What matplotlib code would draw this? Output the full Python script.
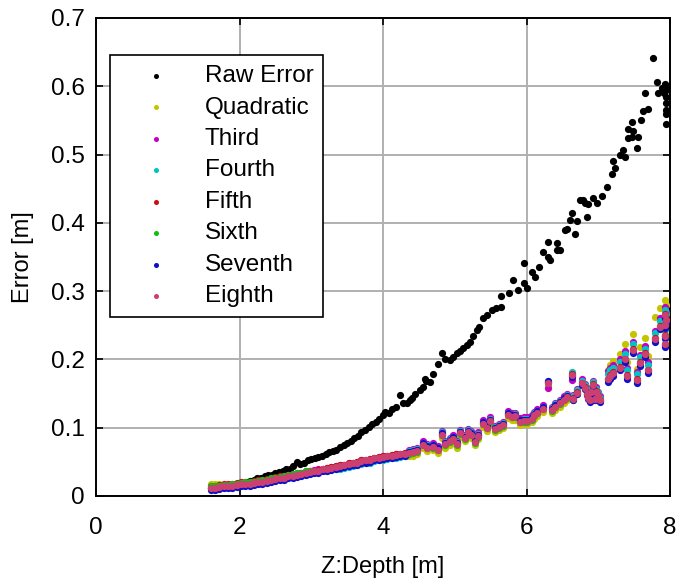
import matplotlib
matplotlib.use("Agg")
import matplotlib.pyplot as plt

plt.rcParams['font.family'] = ['Liberation Sans', 'DejaVu Sans']

# ---------------- data ----------------
raw_depth = [1.60, 1.65, 1.70, 1.75, 1.80, 1.85, 1.90, 1.95, 2.00, 2.05, 2.10, 2.15, 2.20, 2.25,
             2.30, 2.35, 2.40, 2.45, 2.50, 2.55, 2.60, 2.65, 2.70, 2.75, 2.80, 2.85, 2.90, 2.95,
             3.00, 3.05, 3.10, 3.15, 3.20, 3.25, 3.30, 3.35, 3.40, 3.45, 3.50, 3.55, 3.60, 3.65,
             3.70, 3.75, 3.80, 3.85, 3.90, 3.95,
             4.00, 4.03, 4.08, 4.12, 4.18, 4.24, 4.28, 4.33, 4.38, 4.40, 4.45, 4.52, 4.56, 4.59,
             4.60, 4.65, 4.70, 4.77, 4.82, 4.86, 4.93, 4.98, 5.03, 5.08, 5.12, 5.17, 5.21, 5.26,
             5.31, 5.34, 5.39, 5.45, 5.52, 5.58, 5.65, 5.65, 5.75, 5.81, 5.88, 5.97, 5.97, 6.01,
             6.07, 6.12, 6.18, 6.23, 6.30, 6.33, 6.30, 6.42, 6.43, 6.46, 6.53, 6.56, 6.60, 6.63,
             6.67, 6.70, 6.75, 6.79, 6.82, 6.84, 6.86, 6.93, 6.98, 7.05, 7.12, 7.19, 7.21, 7.23,
             7.30, 7.34, 7.37, 7.41, 7.41, 7.47, 7.47, 7.48, 7.54, 7.55, 7.60, 7.62, 7.65, 7.69,
             7.76, 7.82, 7.83, 7.89, 7.93, 7.95, 7.95, 7.95, 7.95, 7.95, 7.94, 7.96, 7.92]
raw_error = [.011, .012, .012, .013, .014, .015, .016, .017, .018, .019, .021, .022, .024, .027,
             .027, .029, .031, .031, .033, .035, .036, .039, .040, .044, .050, .047, .049, .052,
             .054, .056, .057, .058, .061, .064, .066, .068, .072, .075, .078, .081, .085, .088,
             .093, .097, .101, .105, .109, .113,
             .118, .123, .121, .127, .131, .148, .136, .136, .140, .143, .150, .155, .160, .172,
             .168, .167, .178, .194, .210, .200, .199, .204, .209, .213, .217, .221, .225, .235,
             .243, .248, .261, .265, .272, .275, .277, .293, .297, .316, .301, .312, .341, .304,
             .328, .320, .336, .358, .350, .346, .372, .360, .371, .360, .389, .391, .404, .415,
             .383, .402, .433, .433, .429, .408, .427, .437, .429, .440, .452, .472, .491, .480,
             .499, .506, .496, .524, .538, .525, .547, .535, .510, .525, .550, .564, .590, .567,
             .641, .606, .590, .597, .604, .594, .585, .575, .565, .560, .545, .600, .590]

fit_depth = [1.60, 1.66, 1.72, 1.78, 1.84, 1.90, 1.96, 2.02, 2.08, 2.14, 2.20, 2.26, 2.32, 2.38,
             2.44, 2.50, 2.56, 2.62, 2.68, 2.74, 2.80, 2.86, 2.92, 2.98, 3.04, 3.10, 3.16, 3.22,
             3.28, 3.34, 3.40, 3.46, 3.52, 3.58, 3.64, 3.70, 3.76, 3.82, 3.88, 3.94, 4.00, 4.06,
             4.12, 4.18, 4.24, 4.30,
             4.36, 4.42, 4.48, 4.56, 4.62, 4.70, 4.76, 4.82, 4.86, 4.93, 4.98, 5.03, 5.07, 5.14,
             5.18, 5.23, 5.28, 5.32, 5.39, 5.45, 5.49, 5.56, 5.62, 5.67, 5.74, 5.80, 5.84, 5.91,
             5.96, 6.00, 6.07, 6.10, 6.14, 6.23, 6.30, 6.35, 6.40, 6.47, 6.52, 6.56,
             6.63, 6.65, 6.70, 6.77, 6.81, 6.84, 6.86, 6.88, 6.90, 6.93, 6.95, 6.97, 7.00, 7.02,
             7.13, 7.17, 7.21, 7.30, 7.37, 7.40, 7.48, 7.54, 7.58, 7.65, 7.69, 7.79, 7.86, 7.93,
             7.93, 7.93, 7.93, 7.95]

quadratic = [.017, .017, .018, .013, .013, .014, .015, .016, .017, .017, .018, .019, .020, .021,
             .023, .024, .025, .026, .028, .029, .030, .031, .033, .034, .035, .036, .038, .039,
             .040, .041, .042, .043, .045, .046, .047, .049, .050, .051, .053, .054, .055, .056,
             .057, .058, .059, .060,
             .058, .059, .061, .070, .066, .067, .063, .085, .071, .075, .079, .071, .087, .080,
             .088, .085, .074, .083, .101, .095, .105, .093, .096, .099, .114, .111, .112, .104,
             .105, .105, .108, .113, .117, .123, .161, .121, .126, .131, .136, .140,
             .180, .145, .154, .168, .161, .153, .147, .143, .155, .166, .145, .156, .150, .143,
             .185, .192, .198, .208, .222, .196, .237, .186, .218, .232, .205, .262, .275, .287,
             .272, .258, .245, .280]
third = [.012, .012, .013, .014, .014, .015, .016, .017, .018, .018, .019, .020, .021, .022,
         .024, .025, .026, .029, .031, .032, .033, .034, .036, .037, .038, .039, .040, .041,
         .042, .044, .045, .046, .048, .049, .050, .052, .053, .054, .056, .057, .058, .059,
         .060, .061, .062, .063,
         .068, .069, .071, .080, .076, .077, .073, .095, .081, .085, .089, .081, .097, .090,
         .098, .095, .084, .093, .111, .105, .115, .103, .106, .109, .124, .121, .122, .114,
         .115, .115, .118, .123, .127, .133, .158, .131, .136, .141, .146, .150,
         .170, .148, .157, .171, .164, .156, .150, .146, .158, .169, .148, .159, .153, .146,
         .183, .188, .192, .200, .212, .188, .226, .182, .207, .220, .196, .242, .260, .277,
         .262, .247, .234, .270]
fourth = [.011, .011, .012, .013, .013, .014, .015, .016, .017, .017, .018, .019, .020, .021,
          .023, .024, .025, .026, .028, .029, .030, .031, .033, .034, .035, .036, .038, .039,
          .040, .039, .040, .041, .043, .044, .045, .047, .048, .049, .051, .052, .053, .054,
          .055, .056, .057, .058,
          .066, .067, .069, .078, .074, .075, .071, .093, .079, .083, .087, .079, .095, .088,
          .096, .093, .082, .091, .109, .103, .113, .101, .104, .107, .122, .119, .120, .112,
          .113, .113, .116, .121, .125, .131, .169, .129, .134, .139, .144, .148,
          .181, .146, .155, .169, .162, .154, .148, .144, .156, .167, .146, .157, .151, .144,
          .179, .184, .188, .196, .208, .184, .222, .178, .203, .216, .192, .238, .256, .273,
          .258, .243, .230, .266]
fifth = [.015, .015, .016, .017, .017, .018, .019, .020, .021, .021, .022, .023, .024, .025,
         .027, .028, .029, .028, .030, .031, .032, .033, .035, .036, .037, .038, .040, .041,
         .042, .044, .045, .046, .048, .049, .050, .052, .053, .054, .056, .057, .058, .059,
         .060, .061, .062, .063,
         .064, .065, .067, .076, .072, .073, .069, .091, .077, .081, .085, .077, .093, .086,
         .094, .091, .080, .089, .107, .101, .111, .099, .102, .105, .120, .117, .118, .110,
         .111, .111, .114, .119, .123, .129, .167, .127, .132, .137, .142, .146,
         .178, .143, .152, .166, .159, .151, .145, .141, .153, .164, .143, .154, .148, .141,
         .172, .177, .181, .189, .201, .177, .215, .171, .196, .209, .185, .231, .249, .266,
         .251, .236, .223, .259]
sixth = [.014, .014, .015, .016, .016, .017, .018, .019, .020, .020, .021, .022, .023, .024,
         .026, .027, .028, .029, .031, .032, .033, .034, .036, .037, .035, .036, .038, .039,
         .040, .042, .043, .044, .046, .047, .048, .050, .051, .052, .054, .055, .056, .057,
         .058, .059, .060, .061,
         .062, .063, .065, .074, .070, .071, .067, .089, .075, .079, .083, .075, .091, .084,
         .092, .089, .078, .087, .105, .099, .109, .097, .100, .103, .118, .115, .116, .108,
         .109, .109, .112, .117, .121, .127, .165, .125, .130, .135, .140, .144,
         .176, .141, .150, .164, .157, .149, .143, .139, .151, .162, .141, .152, .146, .139,
         .170, .175, .179, .187, .199, .175, .213, .169, .194, .207, .183, .229, .247, .264,
         .249, .234, .221, .257]
seventh = [.009, .009, .010, .011, .011, .012, .013, .014, .015, .015, .016, .017, .018, .019,
           .021, .022, .023, .024, .026, .027, .028, .029, .031, .032, .033, .034, .036, .037,
           .038, .040, .041, .042, .044, .045, .046, .048, .049, .050, .052, .053, .054, .055,
           .056, .057, .058, .059,
           .065, .066, .068, .077, .073, .074, .070, .092, .078, .082, .086, .078, .094, .087,
           .095, .092, .081, .090, .108, .102, .112, .100, .103, .106, .121, .118, .119, .111,
           .112, .112, .115, .120, .124, .130, .168, .128, .133, .138, .143, .147,
           .175, .140, .149, .163, .156, .148, .142, .138, .150, .161, .140, .151, .145, .138,
           .167, .172, .176, .184, .196, .172, .210, .166, .191, .204, .180, .226, .244, .261,
           .246, .231, .218, .254]
eighth = [.012, .012, .013, .014, .014, .015, .016, .017, .018, .018, .019, .020, .021, .022,
          .024, .025, .026, .027, .029, .030, .031, .032, .034, .035, .036, .037, .039, .040,
          .041, .043, .044, .045, .047, .048, .049, .051, .052, .053, .055, .056, .057, .058,
          .059, .060, .061, .062,
          .063, .064, .066, .075, .071, .072, .068, .090, .076, .080, .084, .076, .092, .085,
          .093, .090, .079, .088, .106, .100, .110, .098, .101, .104, .119, .116, .117, .109,
          .110, .110, .113, .118, .122, .128, .166, .126, .131, .136, .141, .145,
          .177, .142, .151, .165, .158, .150, .144, .140, .152, .163, .142, .153, .147, .140,
          .171, .176, .180, .188, .200, .176, .214, .170, .195, .208, .184, .230, .248, .265,
          .250, .235, .222, .258]

series_labels = ["Raw Error", "Quadratic", "Third", "Fourth", "Fifth", "Sixth", "Seventh", "Eighth"]
series_colors = ["#000000", "#c4c400", "#c400c4", "#00c4c4", "#cc1010", "#10c010", "#1010c8", "#cc3f70"]
x_ticks = [0, 2, 4, 6, 8]
y_ticks = [0, 0.1, 0.2, 0.3, 0.4, 0.5, 0.6, 0.7]

# ---------------- figure ----------------
fig = plt.figure(figsize=(6.85, 5.85), dpi=100)
ax = fig.add_axes([96 / 685, 89 / 585, 574 / 685, 478 / 585])

fits = [quadratic, third, fourth, fifth, sixth, seventh, eighth]
ax.scatter(raw_depth, raw_error, s=27, color=series_colors[0], linewidths=0,
           label=series_labels[0], zorder=3)
for vals, col, lab in zip(fits, series_colors[1:], series_labels[1:]):
    ax.scatter(fit_depth, vals, s=27, color=col, linewidths=0, label=lab, zorder=3)

ax.set_xlim(0, 8)
ax.set_ylim(0, 0.7)
ax.set_xticks(x_ticks)
ax.set_yticks(y_ticks)
ax.set_xticklabels([str(v) for v in x_ticks])
ax.set_yticklabels(["0"] + [f"{v:.1f}" for v in y_ticks[1:]])
ax.grid(True, color="#b0b0b0", linewidth=1.4, zorder=0)
ax.set_axisbelow(True)
ax.tick_params(direction="in", length=5, width=1.2, top=True, right=True,
               labelsize=17.5, colors="black")
ax.tick_params(axis="y", pad=8)
ax.tick_params(axis="x", pad=15)
for sp in ax.spines.values():
    sp.set_linewidth(1.4)
    sp.set_color("black")

ax.set_xlabel("Z:Depth [m]", fontsize=17, labelpad=12)
ax.set_ylabel("Error [m]", fontsize=17, labelpad=12)

leg = ax.legend(loc="upper left", bbox_to_anchor=(0.024, 0.922), borderaxespad=0,
                fontsize=17.5, frameon=True, fancybox=False, markerscale=0.7,
                handletextpad=0.5, handlelength=3.0, labelspacing=0.39,
                borderpad=0.4, scatterpoints=1)
leg.get_frame().set_edgecolor("black")
leg.get_frame().set_linewidth(1.2)
leg.get_frame().set_alpha(1)

fig.savefig("out.png", dpi=100)
